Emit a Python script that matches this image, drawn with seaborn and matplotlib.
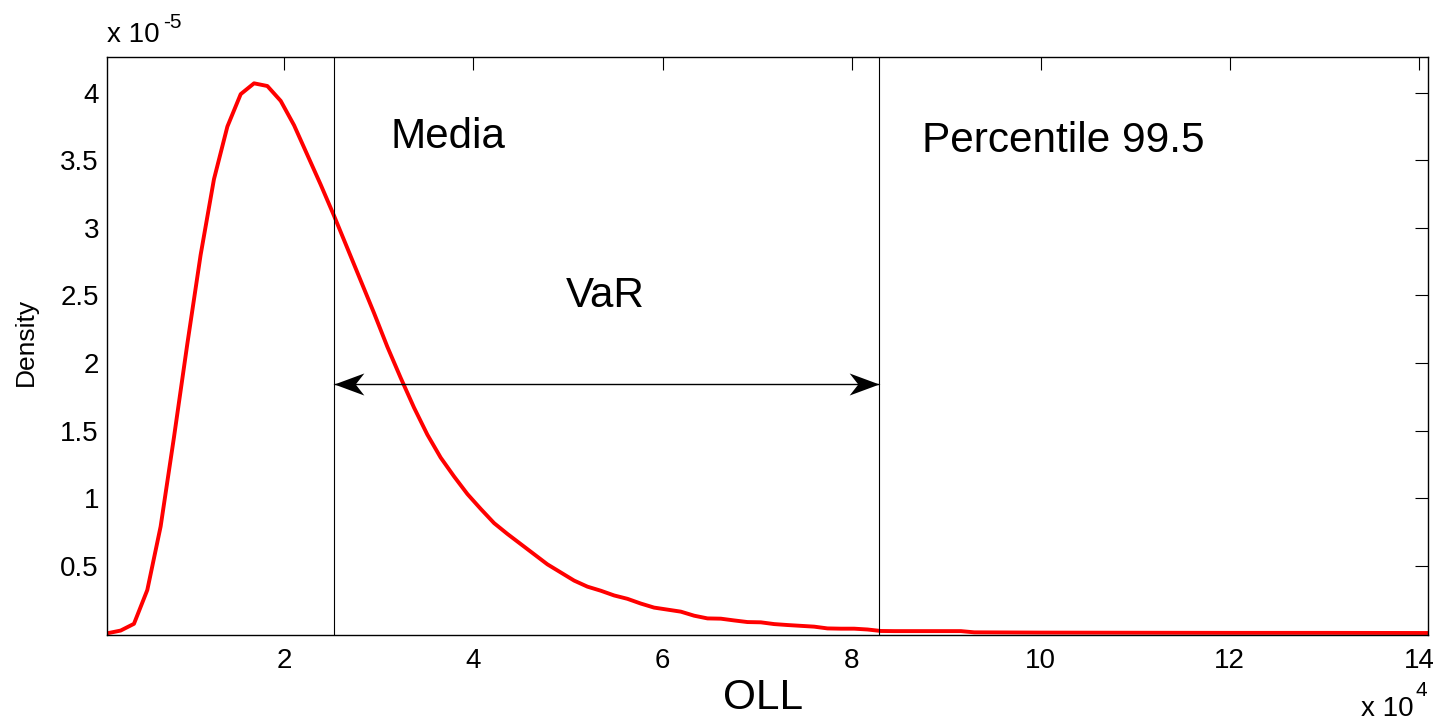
import matplotlib
matplotlib.use("Agg")
import matplotlib.pyplot as plt
from matplotlib.path import Path
import seaborn as sns

# ---- data (x in units of 1e4, density in units of 1e-5) ----
oll_1e4 = [0.128, 0.269, 0.410, 0.551, 0.692, 0.833, 0.974, 1.115, 1.256, 1.398,
           1.539, 1.680, 1.821, 1.962, 2.103, 2.244, 2.385, 2.526, 2.667, 2.808,
           2.949, 3.090, 3.231, 3.372, 3.513, 3.654, 3.796, 3.937, 4.078, 4.219,
           4.360, 4.501, 4.642, 4.783, 4.924, 5.065, 5.206, 5.347, 5.488, 5.629,
           5.770, 5.911, 6.053, 6.194, 6.335, 6.476, 6.617, 6.758, 6.899, 7.040,
           7.181, 7.322, 7.463, 7.604, 7.745, 7.886, 8.027, 8.168, 8.309, 8.451,
           8.592, 8.733, 8.874, 9.015, 9.156, 9.297, 10.0, 11.0, 12.0, 13.0, 14.093]
density_1e5 = [0.00, 0.02, 0.07, 0.32, 0.79, 1.45, 2.14, 2.80, 3.36, 3.75,
               3.99, 4.07, 4.05, 3.94, 3.76, 3.54, 3.32, 3.09, 2.85, 2.61,
               2.37, 2.12, 1.89, 1.67, 1.47, 1.30, 1.16, 1.03, 0.92, 0.815,
               0.735, 0.66, 0.585, 0.51, 0.45, 0.39, 0.345, 0.315, 0.28, 0.255,
               0.22, 0.19, 0.175, 0.16, 0.13, 0.11, 0.108, 0.095, 0.083, 0.081,
               0.068, 0.061, 0.055, 0.049, 0.036, 0.034, 0.034, 0.028, 0.017, 0.016,
               0.016, 0.016, 0.016, 0.016, 0.016, 0.007, 0.005, 0.004, 0.003, 0.003, 0.002]

mean_1e4 = 2.522
p995_1e4 = 8.29
arrow_y_1e5 = 1.843

xticks = [2, 4, 6, 8, 10, 12, 14]
yticks = [0.5, 1, 1.5, 2, 2.5, 3, 3.5, 4]
label_media = "Media"
label_pct = "Percentile 99.5"
label_var = "VaR"
xlabel = "OLL"
ylabel = "Density"

sns.set_style("white")
plt.rcParams["font.family"] = ["Liberation Sans", "DejaVu Sans"]
plt.rcParams["text.color"] = "black"
plt.rcParams["xtick.color"] = "black"
plt.rcParams["ytick.color"] = "black"

W, H = 1433, 719
fig = plt.figure(figsize=(W / 100, H / 100), dpi=100)
ax = fig.add_axes([107.3 / W, 1 - 635.3 / H, (1427.7 - 107.3) / W, (635.3 - 56.7) / H])

sns.lineplot(x=oll_1e4, y=density_1e5, color="#ff0000", linewidth=2.8, ax=ax, sort=False)

ax.set_xlim(0.128, 14.093)
ax.set_ylim(-0.015, 4.267)
ax.set_xticks(xticks)
ax.set_yticks(yticks)
ax.set_xticklabels([str(t) for t in xticks])
ax.set_yticklabels([f"{t:g}" for t in yticks])
ax.tick_params(direction="in", top=True, right=True, length=9.5, width=0.8,
               labelsize=20, colors="black")
ax.tick_params(axis="x", pad=9)
ax.tick_params(axis="y", pad=6)
for s in ax.spines.values():
    s.set_visible(True)
    s.set_color("black")
    s.set_linewidth(1.0)
ax.set_xlabel("")
ax.set_ylabel("")

# vertical lines
ax.axvline(mean_1e4, color="black", linewidth=0.8)
ax.axvline(p995_1e4, color="black", linewidth=0.8)

# double arrow with notched (MATLAB-style) heads
ax.plot([mean_1e4, p995_1e4], [arrow_y_1e5, arrow_y_1e5], color="black", linewidth=1.0)
head_r = Path([(0, 0), (-1, 0.37), (-0.71, 0), (-1, -0.37), (0, 0)],
              [Path.MOVETO, Path.LINETO, Path.LINETO, Path.LINETO, Path.CLOSEPOLY])
head_l = Path([(0, 0), (1, 0.37), (0.71, 0), (1, -0.37), (0, 0)],
              [Path.MOVETO, Path.LINETO, Path.LINETO, Path.LINETO, Path.CLOSEPOLY])
ax.plot([p995_1e4], [arrow_y_1e5], marker=head_r, markersize=43, color="black",
        markeredgewidth=0, linestyle="none")
ax.plot([mean_1e4], [arrow_y_1e5], marker=head_l, markersize=43, color="black",
        markeredgewidth=0, linestyle="none")

ax.text(3.118, 3.589, label_media, fontsize=30.3, ha="left", va="baseline")
ax.text(8.745, 3.564, label_pct, fontsize=30.5, ha="left", va="baseline")
ax.text(4.98, 2.417, label_var, fontsize=30.3, ha="left", va="baseline")

# axis labels and multipliers
fig.text(763 / W, 1 - 698 / H, xlabel, fontsize=30.5, ha="center", va="center")
fig.text(26 / W, 1 - 342 / H, ylabel, fontsize=19, ha="center", va="center", rotation=90)
fig.text(107.3 / W, 1 - 41.7 / H, "x 10", fontsize=20, ha="left", va="baseline")
fig.text(163 / W, 1 - 28 / H, "-5", fontsize=15, ha="left", va="baseline")
fig.text(1361 / W, 1 - 715.7 / H, "x 10", fontsize=20, ha="left", va="baseline")
fig.text(1415 / W, 1 - 696 / H, "4", fontsize=15, ha="left", va="baseline")

fig.savefig("out.png", dpi=100)
